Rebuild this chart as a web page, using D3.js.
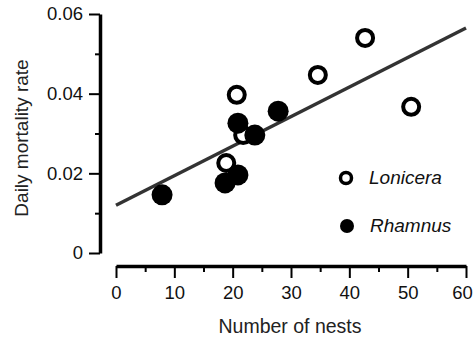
<!DOCTYPE html>
<html>
<head>
<meta charset="utf-8">
<script src="https://cdn.jsdelivr.net/npm/d3@7"></script>
<style>
  body { margin: 0; background: #fff; }
  svg { display: block; font-family: "Liberation Sans", Arial, sans-serif; }
</style>
</head>
<body>
<svg id="chart" width="475" height="338"></svg>
<script>
// Data
const loniceraNests = [42.7, 34.6, 20.7, 50.6, 21.8, 18.9];
const loniceraRate = [0.054, 0.0447, 0.0397, 0.0367, 0.0296, 0.0226];
const rhamnusNests = [20.9, 23.8, 27.8, 20.9, 18.7, 7.9];
const rhamnusRate = [0.0326, 0.0296, 0.0356, 0.0196, 0.0176, 0.0146];
const fitLine = [[0, 0.012], [60, 0.0565]];
const xTicks = [0, 10, 20, 30, 40, 50, 60];
const yTicks = [0, 0.02, 0.04, 0.06];

const svg = d3.select('#chart');
const fontSize = 18.5;

// Scales
const x = d3.scaleLinear().domain([0, 60]).range([116, 466]);
const y = d3.scaleLinear().domain([0, 0.06]).range([253, 14]);

// X axis (detached, below plot)
const xAxisY = 266;
const gx = svg.append('g').attr('transform', `translate(0,${xAxisY})`);
gx.call(d3.axisBottom(x).tickValues(d3.range(5, 60, 10)).tickSize(6).tickFormat(''));
gx.select('.domain').remove();
gx.selectAll('.tick line').attr('stroke-width', 2);
const gx2 = svg.append('g').attr('transform', `translate(0,${xAxisY})`);
gx2.call(d3.axisBottom(x).tickValues(xTicks).tickSize(12).tickSizeOuter(0).tickPadding(8));
gx2.select('.domain').attr('stroke-width', 3.5);
gx2.selectAll('.tick line').attr('stroke-width', 2);
gx2.selectAll('.tick text').attr('font-size', fontSize).attr('fill', '#111')
  .attr('font-family', '"Liberation Sans", Arial, sans-serif')
  .attr('dx', d => d === 60 ? -4 : 0);

// Y axis (detached, left)
const yAxisX = 100;
const gy = svg.append('g').attr('transform', `translate(${yAxisX},0)`);
gy.call(d3.axisLeft(y).tickValues([0.01, 0.03, 0.05]).tickSize(5).tickFormat(''));
gy.select('.domain').remove();
gy.selectAll('.tick line').attr('stroke-width', 2);
const gy2 = svg.append('g').attr('transform', `translate(${yAxisX},0)`);
gy2.call(d3.axisLeft(y).tickValues(yTicks).tickSize(11).tickSizeOuter(0).tickPadding(6)
  .tickFormat(d => d === 0 ? '0' : d3.format('.2f')(d)));
gy2.select('.domain').attr('stroke-width', 3.5);
gy2.selectAll('.tick line').attr('stroke-width', 2);
gy2.selectAll('.tick text').attr('font-size', fontSize).attr('fill', '#111')
  .attr('font-family', '"Liberation Sans", Arial, sans-serif');

// Axis titles
svg.append('text')
  .attr('x', 290).attr('y', 333)
  .attr('text-anchor', 'middle')
  .attr('font-size', 19.5).attr('fill', '#222')
  .text('Number of nests');

svg.append('text')
  .attr('transform', 'rotate(-90)')
  .attr('x', -138).attr('y', 28)
  .attr('text-anchor', 'middle')
  .attr('font-size', 19).attr('fill', '#222')
  .text('Daily mortality rate');

// Regression line
svg.append('line')
  .attr('x1', x(fitLine[0][0])).attr('y1', y(fitLine[0][1]))
  .attr('x2', x(fitLine[1][0])).attr('y2', y(fitLine[1][1]))
  .attr('stroke', '#333')
  .attr('stroke-width', 3.5);

// Points
const lonicera = loniceraNests.map((n, i) => ({ n, v: loniceraRate[i] }));
const rhamnus = rhamnusNests.map((n, i) => ({ n, v: rhamnusRate[i] }));

svg.append('g').selectAll('circle')
  .data(lonicera)
  .join('circle')
  .attr('cx', d => x(d.n))
  .attr('cy', d => y(d.v))
  .attr('r', 8)
  .attr('fill', '#fff')
  .attr('stroke', '#000')
  .attr('stroke-width', 4);

svg.append('g').selectAll('circle')
  .data(rhamnus)
  .join('circle')
  .attr('cx', d => x(d.n))
  .attr('cy', d => y(d.v))
  .attr('r', 10.5)
  .attr('fill', '#000');

// Legend
const legend = svg.append('g');
legend.append('circle')
  .attr('cx', 346).attr('cy', 178).attr('r', 5.5)
  .attr('fill', '#fff').attr('stroke', '#000').attr('stroke-width', 3.5);
legend.append('text')
  .attr('x', 369).attr('y', 184)
  .attr('font-size', 19).attr('font-style', 'italic').attr('fill', '#111')
  .text('Lonicera');
legend.append('circle')
  .attr('cx', 347).attr('cy', 226).attr('r', 7)
  .attr('fill', '#000');
legend.append('text')
  .attr('x', 370).attr('y', 232)
  .attr('font-size', 19).attr('font-style', 'italic').attr('fill', '#111')
  .text('Rhamnus');
</script>
</body>
</html>
